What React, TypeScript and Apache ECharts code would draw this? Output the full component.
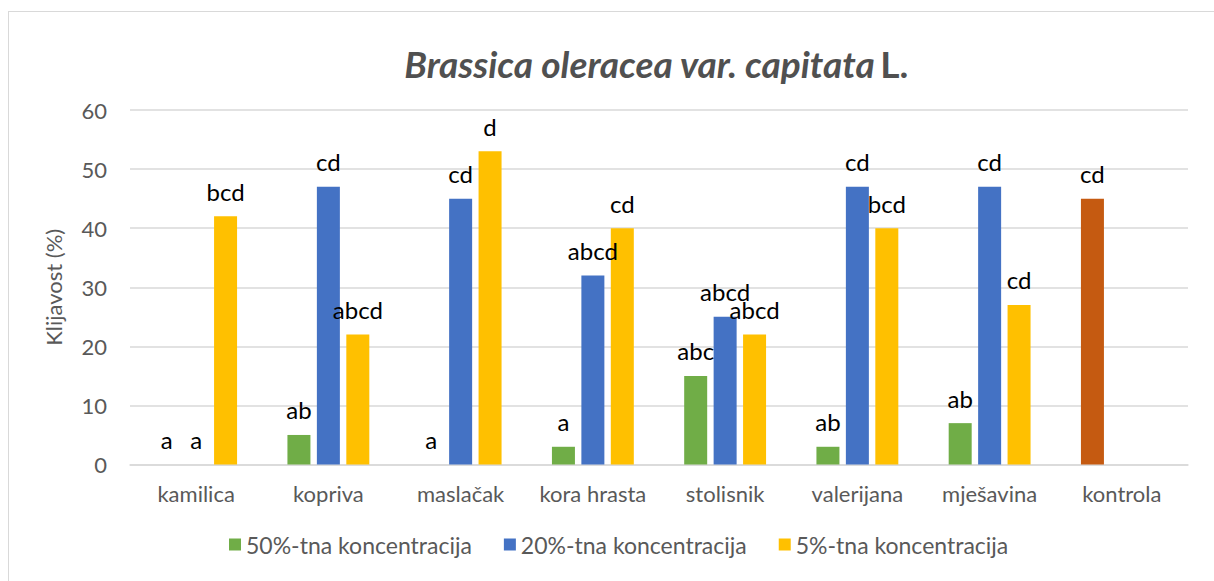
import React, { useEffect, useRef } from "react";
import * as echarts from "echarts";

const categories = ["kamilica", "kopriva", "maslačak", "kora hrasta", "stolisnik", "valerijana", "mješavina", "kontrola"];
const seriesNames = ["50%-tna koncentracija", "20%-tna koncentracija", "5%-tna koncentracija"];
const values50 = [0, 5, 0, 3, 15, 3, 7, 45];
const values20: (number | null)[] = [0, 47, 45, 32, 25, 47, 47, null];
const values5: (number | null)[] = [42, 22, 53, 40, 22, 40, 27, null];
const letters50 = ["a", "ab", "a", "a", "abc", "ab", "ab", "cd"];
const letters20 = ["a", "cd", "cd", "abcd", "abcd", "cd", "cd", ""];
const letters5 = ["bcd", "abcd", "d", "cd", "abcd", "bcd", "cd", ""];
const yTicks = [0, 10, 20, 30, 40, 50, 60];

const colors = ["#70ad47", "#4472c4", "#ffc000"];
const controlColor = "#c55a11";
const FONT = "Lato";

export default function App() {
  const ref = useRef<HTMLDivElement>(null);
  useEffect(() => {
    if (!ref.current) return;
    const chart = echarts.init(ref.current, undefined, { renderer: "svg" });
    const labelStyle = (letters: string[]) => ({
      show: true,
      position: "top" as const,
      distance: 13,
      fontFamily: FONT,
      fontSize: 24,
      color: "#000000",
      formatter: (p: any) => letters[p.dataIndex] || "",
    });
    const mk = (name: string, vals: (number | null)[], letters: string[], color: string, idx: number) => ({
      name,
      type: "bar" as const,
      barWidth: 23,
      barGap: "28%",
      itemStyle: { color },
      label: labelStyle(letters),
      data: vals.map((v, i) =>
        idx === 0 && i === categories.length - 1
          ? { value: v, itemStyle: { color: controlColor } }
          : v
      ),
    });
    chart.setOption({
      animation: false,
      title: {
        text: "{i|Brassica oleracea var. capitata} {b|L.}",
        left: 651,
        textAlign: "center",
        top: 40,
        textStyle: {
          rich: {
            i: { fontFamily: FONT, fontStyle: "italic", fontWeight: "bold", fontSize: 37, color: "#505050" },
            b: { fontFamily: FONT, fontWeight: "bold", fontSize: 37, color: "#505050" },
          },
        },
      },
      legend: {
        bottom: 20,
        left: 224,
        itemWidth: 12,
        itemHeight: 12,
        itemGap: 32,
        icon: "rect",
        textStyle: { fontFamily: FONT, fontSize: 23, color: "#595959" },
        data: seriesNames,
      },
      grid: { left: 130, right: 26, top: 110, bottom: 116.5, containLabel: false },
      xAxis: {
        type: "category",
        data: categories,
        axisLine: { lineStyle: { color: "#d9d9d9", width: 1.5 } },
        axisTick: { show: false },
        axisLabel: { interval: 0, fontFamily: FONT, fontSize: 22, color: "#595959", margin: 18 },
      },
      yAxis: {
        type: "value",
        min: yTicks[0],
        max: yTicks[yTicks.length - 1],
        interval: 10,
        name: "Klijavost (%)",
        nameLocation: "middle",
        nameGap: 66,
        nameRotate: 90,
        nameTextStyle: { fontFamily: FONT, fontSize: 22, color: "#595959" },
        axisLine: { show: false },
        axisTick: { show: false },
        splitLine: { lineStyle: { color: "#d9d9d9", width: 1.5 } },
        axisLabel: { fontFamily: FONT, fontSize: 22, color: "#595959", margin: 23 },
      },
      series: [
        mk(seriesNames[0], values50, letters50, colors[0], 0),
        mk(seriesNames[1], values20, letters20, colors[1], 1),
        mk(seriesNames[2], values5, letters5, colors[2], 2),
      ],
    });
    return () => chart.dispose();
  }, []);
  return (
    <div style={{ position: "fixed", left: 0, top: 0, width: 1214, height: 581, background: "#fff" }}>
      <div
        style={{
          position: "absolute",
          left: 8,
          top: 11,
          width: 1220,
          height: 600,
          borderLeft: "1.5px solid #d9d9d9",
          borderTop: "1.5px solid #d9d9d9",
        }}
      />
      <div ref={ref} style={{ position: "absolute", left: 0, top: 0, width: 1214, height: 581 }} />
    </div>
  );
}
